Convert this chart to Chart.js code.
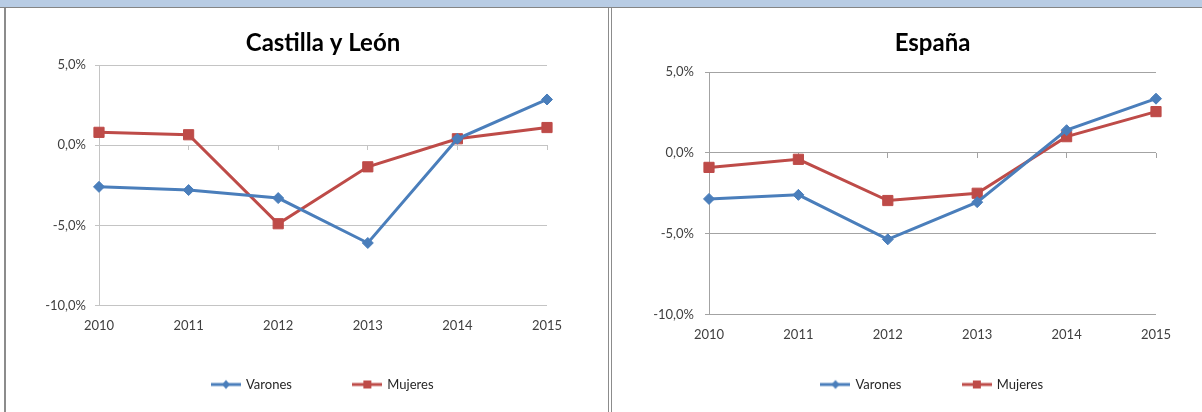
<!DOCTYPE html>
<html>
<head>
<meta charset="utf-8">
<script src="https://cdn.jsdelivr.net/npm/chart.js@4/dist/chart.umd.min.js"></script>
<style>
  html, body { margin: 0; padding: 0; background: #fff; }
  body { width: 1202px; height: 412px; position: relative; overflow: hidden; }
  #bar { position: absolute; left: 0; top: 0; width: 1202px; height: 7px; background: #b8cce4; border-bottom: 1px solid #858585; }
  #panelL { position: absolute; left: 4px; top: 8px; width: 602px; height: 404px; border-left: 2px solid #8c8c8c; border-right: 1px solid #8c8c8c; }
  #panelR { position: absolute; left: 611px; top: 8px; width: 590px; height: 404px; border-left: 1px solid #8c8c8c; }
  canvas { display: block; }
</style>
</head>
<body>
<div id="bar"></div>
<div id="panelL"><canvas id="chartL" width="602" height="404"></canvas></div>
<div id="panelR"><canvas id="chartR" width="590" height="404"></canvas></div>
<script>
// data (percent)
const years = ['2010', '2011', '2012', '2013', '2014', '2015'];
const clVarones = [-2.6, -2.8, -3.3, -6.1, 0.4, 2.85];
const clMujeres = [0.8, 0.65, -4.9, -1.35, 0.4, 1.1];
const esVarones = [-2.85, -2.6, -5.35, -3.05, 1.4, 3.35];
const esMujeres = [-0.9, -0.4, -2.95, -2.5, 1.0, 2.55];
const yTicks = [-10, -5, 0, 5];
const seriesNames = ['Varones', 'Mujeres'];

const BLUE = '#4a7ebb';
const RED = '#be4b48';

Chart.defaults.font.family = 'Lato, "Open Sans", sans-serif';
Chart.defaults.font.size = 13;
Chart.defaults.color = '#404040';

// small legend icons: line with the marker in the middle, like the spreadsheet legend
function legendIcon(color, shape) {
  const c = document.createElement('canvas');
  c.width = 30; c.height = 14;
  const g = c.getContext('2d');
  g.strokeStyle = color;
  g.lineWidth = 3;
  g.beginPath(); g.moveTo(0, 7); g.lineTo(30, 7); g.stroke();
  g.fillStyle = color;
  g.beginPath();
  if (shape === 'diamond') {
    g.moveTo(15, 2.5); g.lineTo(19, 7); g.lineTo(15, 11.5); g.lineTo(11, 7);
  } else {
    g.rect(11, 3, 8, 8);
  }
  g.closePath(); g.fill();
  return c;
}
const icons = [legendIcon(BLUE, 'diamond'), legendIcon(RED, 'square')];

const pct = v => v.toFixed(1).replace('.', ',') + '%';

function makeChart(id, title, varones, mujeres, opts) {
  const ctx = document.getElementById(id).getContext('2d');
  return new Chart(ctx, {
    type: 'line',
    data: {
      labels: years,
      datasets: [{
        label: seriesNames[0],
        data: varones,
        borderColor: BLUE,
        backgroundColor: BLUE,
        borderWidth: 3,
        pointStyle: 'rectRot',
        pointRadius: 5.5,
        pointBorderWidth: 1,
        pointBackgroundColor: BLUE,
        pointBorderColor: BLUE,
        tension: 0
      }, {
        label: seriesNames[1],
        data: mujeres,
        borderColor: RED,
        backgroundColor: RED,
        borderWidth: 3,
        pointStyle: 'rect',
        pointRadius: 7.2,
        pointBorderWidth: 1,
        pointBackgroundColor: RED,
        pointBorderColor: RED,
        tension: 0
      }]
    },
    options: {
      responsive: false,
      animation: false,
      events: [],
      layout: { padding: { top: 20.6, bottom: 11, left: 0, right: opts.padRight } },
      scales: {
        // labelled category axis, pinned to the bottom gridline
        x: {
          axis: 'x',
          type: 'category',
          position: { y: yTicks[0] },
          offset: false,
          grid: { display: false, drawTicks: false },
          border: { display: false },
          ticks: { padding: 13, color: '#404040', maxRotation: 0, autoSkip: false }
        },
        // tick marks on the zero line
        x0: {
          axis: 'x',
          type: 'category',
          position: { y: 0 },
          offset: false,
          grid: { drawOnChartArea: false, drawTicks: true, tickLength: 5, color: opts.gridColor },
          border: { display: false },
          ticks: { display: false }
        },
        // spacer between plot and legend
        xs: {
          axis: 'x',
          type: 'category',
          position: 'bottom',
          grid: { display: false },
          border: { display: false },
          ticks: { display: false },
          afterFit: s => { s.height = opts.gap; }
        },
        y: {
          min: yTicks[0],
          max: yTicks[yTicks.length - 1],
          grid: { color: opts.gridColor, drawTicks: true, tickLength: 4 },
          border: { display: true, color: opts.gridColor },
          ticks: { stepSize: yTicks[1] - yTicks[0], padding: opts.yPad, color: '#404040', callback: v => pct(v) },
          afterFit: s => { s.width = opts.yWidth; }
        }
      },
      plugins: {
        title: {
          display: true,
          text: title,
          fullSize: false,
          color: '#000',
          font: { size: 24, weight: 'bold' },
          padding: { top: 0, bottom: opts.titleGap }
        },
        legend: {
          position: 'bottom',
          fullSize: false,
          labels: {
            usePointStyle: true,
            pointStyleWidth: 27,
            padding: 62,
            color: '#262626',
            font: { size: 13 },
            generateLabels: chart => Chart.defaults.plugins.legend.labels.generateLabels(chart)
              .map((item, i) => Object.assign(item, { pointStyle: icons[i] }))
          }
        },
        tooltip: { enabled: false }
      }
    }
  });
}

makeChart('chartL', 'Castilla y León', clVarones, clMujeres, {
  padRight: 61, yWidth: 93, gap: 10.5, titleGap: 7.6, yPad: 9, gridColor: '#c4c4c4'
});
makeChart('chartR', 'España', esVarones, esMujeres, {
  padRight: 46, yWidth: 97, gap: 1.5, titleGap: 14.6, yPad: 11, gridColor: '#a3a3a3'
});
</script>
</body>
</html>
